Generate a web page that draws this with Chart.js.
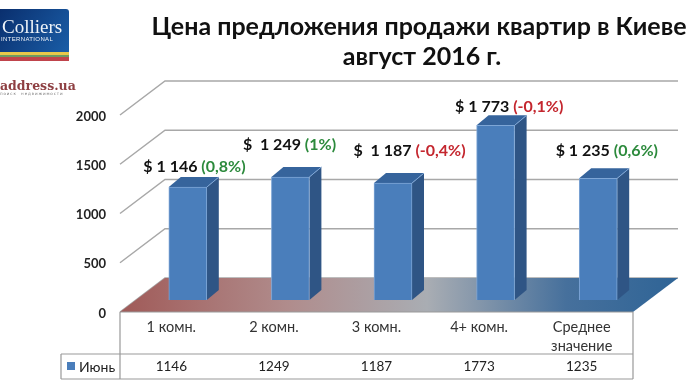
<!DOCTYPE html>
<html>
<head>
<meta charset="utf-8">
<title>Цена предложения</title>
<script src="https://cdn.jsdelivr.net/npm/chart.js@4/dist/chart.umd.min.js"></script>
<style>
    html, body { margin: 0; padding: 0; background: #fff; overflow: hidden; }
    #wrap { width: 686px; height: 386px; overflow: hidden; }
    canvas { display: block; }
</style>
</head>
<body>
<!-- canvas is wider than the window on purpose: the source picture is a cropped slide, the title runs off the right edge -->
<div id="wrap"><canvas id="priceChart" width="844" height="386"></canvas></div>
<script>
const categories = [['1 комн.'], ['2 комн.'], ['3 комн.'], ['4+ комн.'], ['Среднее', 'значение']];
const seriesName = 'Июнь';
const juneValues = [1146, 1249, 1187, 1773, 1235];
const priceLabels = ['$ 1 146', '$  1 249', '$  1 187', '$ 1 773', '$ 1 235'];
const changeLabels = ['(0,8%)', '(1%)', '(-0,4%)', '(-0,1%)', '(0,6%)'];
const yTicks = [0, 500, 1000, 1500, 2000];
const titleLines = ['Цена предложения продажи квартир в Киеве,', 'август 2016 г.'];

const FONT = 'Lato, "Open Sans", "Noto Sans", sans-serif';
const GREEN = '#2c8a3c';
const RED = '#c4262e';

// 3d look of the original: wall is pushed back, bars stand in the middle of the floor
const wallDx = 45, wallDy = -34;
const barDx = 16.5, barDy = -12;
const sideDx = 12, sideDy = -10;
// hand placed callouts, relative to the category centre / bar top
const calloutX = [-28, -31, -23, -24, -26];
const calloutY = [-20, -32, -32, -19, -28];

const threeD = {
    id: 'threeD',
    beforeDatasetsDraw(chart) {
        const { ctx, chartArea: a, scales } = chart;
        const yScale = scales.y;

        // walls
        ctx.save();
        ctx.strokeStyle = '#a8a8a8';
        ctx.lineWidth = 1.5;
        yTicks.forEach(t => {
            const y = yScale.getPixelForValue(t);
            ctx.beginPath();
            ctx.moveTo(a.left, y);
            ctx.lineTo(a.left + wallDx, y + wallDy);
            ctx.lineTo(a.right + wallDx, y + wallDy);
            ctx.stroke();
        });

        // floor
        const grad = ctx.createLinearGradient(a.left, 0, a.right + wallDx, 0);
        grad.addColorStop(0, '#a05a58');
        grad.addColorStop(0.3, '#b08c8c');
        grad.addColorStop(0.55, '#a9adb3');
        grad.addColorStop(0.8, '#46709c');
        grad.addColorStop(1, '#2f6496');
        ctx.fillStyle = grad;
        ctx.beginPath();
        ctx.moveTo(a.left, a.bottom);
        ctx.lineTo(a.right, a.bottom);
        ctx.lineTo(a.right + wallDx, a.bottom + wallDy);
        ctx.lineTo(a.left + wallDx, a.bottom + wallDy);
        ctx.closePath();
        ctx.fill();
        ctx.restore();

        // side and top faces, taken from the bars the library laid out
        const bars = chart.getDatasetMeta(0).data;
        ctx.save();
        ctx.translate(barDx, barDy);
        bars.forEach(bar => {
            const p = bar.getProps(['x', 'y', 'base', 'width'], true);
            const l = p.x - p.width / 2, r = p.x + p.width / 2;
            ctx.fillStyle = '#2f5585';
            ctx.beginPath();
            ctx.moveTo(r, p.y);
            ctx.lineTo(r + sideDx, p.y + sideDy);
            ctx.lineTo(r + sideDx, p.base + sideDy);
            ctx.lineTo(r, p.base);
            ctx.closePath();
            ctx.fill();
            ctx.fillStyle = '#36649c';
            ctx.strokeStyle = '#7ea6d6';
            ctx.lineWidth = 1;
            ctx.beginPath();
            ctx.moveTo(l, p.y);
            ctx.lineTo(l + sideDx, p.y + sideDy);
            ctx.lineTo(r + sideDx, p.y + sideDy);
            ctx.lineTo(r, p.y);
            ctx.closePath();
            ctx.fill();
            ctx.beginPath();
            ctx.moveTo(r + sideDx, p.y + sideDy);
            ctx.lineTo(r, p.y);
            ctx.stroke();
        });
        ctx.restore();

        // front faces get drawn by the library right after this hook
        ctx.save();
        ctx.translate(barDx, barDy);
    },

    afterDatasetsDraw(chart) {
        const { ctx, chartArea: a, scales } = chart;
        ctx.restore();

        // callouts above the bars
        const bars = chart.getDatasetMeta(0).data;
        ctx.save();
        ctx.textBaseline = 'middle';
        ctx.textAlign = 'left';
        ctx.font = 'bold 16px ' + FONT;
        bars.forEach((bar, i) => {
            const x = scales.x.getPixelForValue(i) + calloutX[i];
            const y = scales.y.getPixelForValue(juneValues[i]) + barDy + calloutY[i];
            ctx.fillStyle = '#111';
            ctx.fillText(priceLabels[i], x, y);
            const w = ctx.measureText(priceLabels[i] + ' ').width;
            ctx.fillStyle = changeLabels[i].startsWith('(-') ? RED : GREEN;
            ctx.fillText(changeLabels[i], x + w, y);
        });
        ctx.restore();

        // data table under the axis
        const rowTop = 354, rowBottom = 379, tableLeft = 61;
        ctx.save();
        ctx.strokeStyle = '#999';
        ctx.lineWidth = 1.2;
        ctx.beginPath();
        ctx.moveTo(a.left, a.bottom); ctx.lineTo(a.right, a.bottom);
        ctx.moveTo(a.left, a.bottom); ctx.lineTo(a.left, rowBottom);
        ctx.moveTo(a.right, a.bottom); ctx.lineTo(a.right, rowBottom);
        ctx.moveTo(tableLeft, rowTop); ctx.lineTo(a.right, rowTop);
        ctx.moveTo(tableLeft, rowBottom); ctx.lineTo(a.right, rowBottom);
        ctx.moveTo(tableLeft, rowTop); ctx.lineTo(tableLeft, rowBottom);
        ctx.stroke();

        ctx.fillStyle = '#4a7ebb';
        ctx.fillRect(67, 362, 8, 8);
        ctx.fillStyle = '#222';
        ctx.font = '14px ' + FONT;
        ctx.textBaseline = 'middle';
        ctx.textAlign = 'left';
        ctx.fillText(seriesName, 79, 367);
        ctx.textAlign = 'center';
        ctx.font = '13.5px ' + FONT;
        juneValues.forEach((v, i) => {
            ctx.fillText(String(v), scales.x.getPixelForValue(i), 367);
        });
        ctx.restore();

        drawLogos(ctx);
    }
};

function drawLogos(ctx) {
    ctx.save();
    const g = ctx.createLinearGradient(0, 9, 69, 55);
    g.addColorStop(0, '#0a2f6e');
    g.addColorStop(1, '#1a5ea8');
    ctx.fillStyle = g;
    ctx.beginPath();
    ctx.roundRect(-10, 9, 79, 52, 3);
    ctx.fill();
    ctx.fillStyle = '#e8c84a';
    ctx.fillRect(0, 52, 69, 3);
    ctx.fillStyle = '#6f9a62';
    ctx.fillRect(0, 55, 69, 2);
    ctx.fillStyle = '#c0444c';
    ctx.fillRect(0, 57, 69, 4);

    ctx.fillStyle = '#eef3f8';
    ctx.textAlign = 'left';
    ctx.textBaseline = 'alphabetic';
    ctx.font = '19px "Liberation Serif", serif';
    ctx.fillText('Colliers', 2, 33);
    ctx.font = '6px "Liberation Sans", sans-serif';
    ctx.letterSpacing = '0.35px';
    ctx.fillText('INTERNATIONAL', 1, 41);

    ctx.letterSpacing = '0px';
    ctx.fillStyle = '#8e3f42';
    ctx.font = 'bold 12.5px "DejaVu Serif", serif';
    ctx.fillText('address.ua', 0, 90);
    ctx.fillStyle = '#777';
    ctx.font = '4px "DejaVu Sans", sans-serif';
    ctx.letterSpacing = '0.9px';
    ctx.fillText('поиск  недвижимости', 0, 95);
    ctx.restore();
}

document.addEventListener('DOMContentLoaded', () => {
    new Chart(document.getElementById('priceChart'), {
        type: 'bar',
        data: {
            labels: categories,
            datasets: [{
                label: seriesName,
                data: juneValues,
                yAxisID: 'y',
                backgroundColor: '#4a7ebb',
                borderColor: '#7ea6d6',
                borderWidth: 1,
                barThickness: 38,
            }]
        },
        options: {
            responsive: false,
            animation: false,
            layout: { padding: 0 },
            plugins: {
                legend: { display: false },
                tooltip: { enabled: false },
                title: {
                    display: true,
                    text: titleLines,
                    color: '#111',
                    font: { family: FONT, size: 25, weight: 'bold', lineHeight: 1.2 },
                    padding: { top: 12, bottom: 43 }
                }
            },
            scales: {
                x: {
                    grid: { display: false },
                    border: { display: false },
                    ticks: {
                        color: '#333',
                        font: { family: FONT, size: 14.5, lineHeight: 1.3 },
                        padding: -2,
                        maxRotation: 0,
                        autoSkip: false
                    },
                    afterFit: s => { s.height = 74; }
                },
                y: {
                    min: 0,
                    max: 2000,
                    grid: { display: false },
                    border: { display: false },
                    ticks: {
                        stepSize: 500,
                        color: '#222',
                        font: { family: FONT, size: 13, weight: 'bold' },
                        padding: 6,
                        labelOffset: 1.5,
                        callback: v => String(v)
                    },
                    afterFit: s => { s.width = 120; }
                },
                // empty axis, only reserves the part of the slide that falls outside the crop
                spare: {
                    position: 'right',
                    grid: { display: false },
                    border: { display: false },
                    ticks: { display: false },
                    afterFit: s => { s.width = 211; }
                }
            }
        },
        plugins: [threeD]
    });
});
</script>
</body>
</html>
